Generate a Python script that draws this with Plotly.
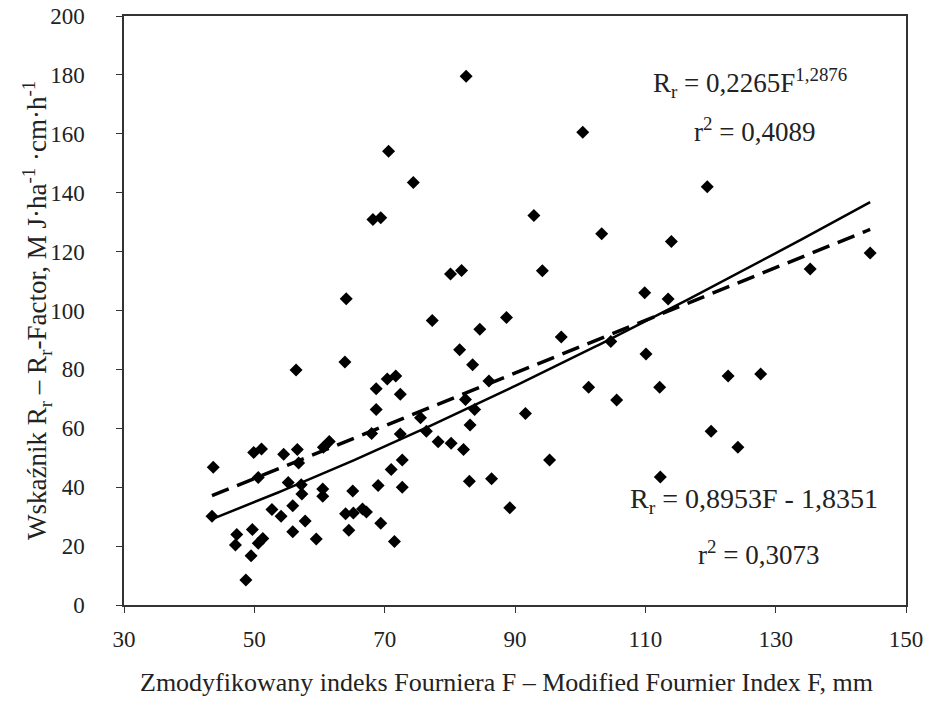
import numpy as np
import plotly.graph_objects as go

# Observed data: Modified Fournier Index F (mm) and R-factor
F_values = [43.7, 43.5, 47.3, 47.1, 48.7, 49.5, 49.7, 50.6, 51.3, 49.9,
            51.1, 50.6, 52.7, 54.1, 54.5, 55.2, 55.9, 55.9, 56.4, 56.6,
            56.8, 57.2, 57.3, 57.8, 59.5, 60.5, 60.5, 60.6, 61.5, 63.9,
            64.1, 64.0, 65.2, 66.6, 67.2, 64.5, 65.1, 68.0, 68.7, 68.7,
            69.0, 69.4, 70.4, 71.7, 72.4, 72.4, 72.7, 72.7, 71.0, 71.5,
            68.2, 69.4, 70.6, 74.4, 75.5, 76.4, 77.3, 78.2, 80.2, 80.1,
            81.8, 81.5, 82.1, 82.4, 82.5, 83.5, 83.8, 83.1, 83.0, 84.6,
            86.0, 86.4, 88.7, 89.2, 91.6, 92.9, 94.2, 95.3, 97.1, 100.4,
            101.3, 103.3, 104.7, 105.6, 109.9, 110.1, 112.2, 112.3, 113.5, 114.0,
            119.5, 120.1, 122.7, 124.2, 127.7, 135.3, 144.5]
R_values = [46.8, 30.1, 23.9, 20.4, 8.5, 16.7, 25.6, 21.0, 22.6, 51.8,
            53.0, 43.3, 32.4, 30.1, 51.2, 41.6, 33.7, 24.9, 79.8, 52.8,
            48.2, 40.8, 37.7, 28.5, 22.4, 39.4, 36.9, 53.6, 55.5, 82.5,
            104.0, 31.0, 31.2, 32.6, 31.6, 25.4, 38.7, 58.2, 73.4, 66.4,
            40.6, 27.8, 76.7, 77.8, 71.6, 58.1, 49.2, 40.0, 46.0, 21.6,
            130.9, 131.5, 154.1, 143.5, 63.6, 59.0, 96.6, 55.4, 54.9, 112.4,
            113.6, 86.7, 52.8, 69.8, 179.5, 81.6, 66.4, 61.1, 42.0, 93.6,
            76.1, 42.9, 97.6, 33.0, 65.0, 132.3, 113.5, 49.2, 91.0, 160.5,
            73.9, 126.1, 89.5, 69.6, 106.0, 85.2, 73.9, 43.5, 103.9, 123.4,
            142.0, 59.0, 77.8, 53.6, 78.4, 114.1, 119.5]

# Fitted equations shown on the chart
POW_A, POW_B = 0.2265, 1.2876
LIN_A, LIN_B = 0.8953, -1.8351

x_tick_vals = [30, 50, 70, 90, 110, 130, 150]
y_tick_vals = [0, 20, 40, 60, 80, 100, 120, 140, 160, 180, 200]

fx = np.linspace(min(F_values), max(F_values), 200)
pow_y = POW_A * fx ** POW_B
lin_y = LIN_A * fx + LIN_B

FONT = "Liberation Serif"

fig = go.Figure()
fig.add_trace(go.Scatter(x=F_values, y=R_values, mode="markers",
                         marker=dict(symbol="diamond", size=10, color="black"),
                         showlegend=False))
fig.add_trace(go.Scatter(x=fx, y=pow_y, mode="lines",
                         line=dict(color="black", width=2.5), showlegend=False))
fig.add_trace(go.Scatter(x=fx, y=lin_y, mode="lines",
                         line=dict(color="black", width=3.5, dash="18px,9px"),
                         showlegend=False))

axis_common = dict(showgrid=False, zeroline=False, showline=True, linecolor="#333",
                   linewidth=1.5, mirror=True, ticks="outside", ticklen=6,
                   tickcolor="#333", tickwidth=1.2, automargin=False,
                   tickfont=dict(family=FONT, size=23, color="#222"))

fig.update_xaxes(range=[30, 150], tickvals=x_tick_vals, ticklabelstandoff=7, **axis_common)
fig.update_yaxes(range=[0, 200], tickvals=y_tick_vals, ticklabelstandoff=27, **axis_common)

ann_font = dict(family=FONT, size=27, color="#222")


def ann(text, x, y, size=27):
    return dict(text=text, x=x, y=y, xref="paper", yref="paper", showarrow=False,
                xanchor="center", yanchor="middle",
                font=dict(family=FONT, size=size, color="#222"))


fig.update_layout(
    width=932, height=716,
    margin=dict(l=124, r=26, t=16, b=111),
    plot_bgcolor="white", paper_bgcolor="white",
    annotations=[
        ann("R<sub>r</sub> = 0,2265F<sup>1,2876</sup>", 0.80, 0.886),
        ann("r<sup>2</sup> = 0,4089", 0.806, 0.806),
        ann("R<sub>r</sub> = 0,8953F - 1,8351", 0.805, 0.178, size=28),
        ann("r<sup>2</sup> = 0,3073", 0.812, 0.088),
        dict(text="Zmodyfikowany indeks Fourniera F – Modified Fournier Index F, mm",
             x=0.489, y=-0.131, xref="paper", yref="paper", showarrow=False,
             xanchor="center", yanchor="middle",
             font=dict(family=FONT, size=26, color="#222")),
        dict(text="Wskaźnik R<sub>r</sub> – R<sub>r</sub>-Factor, M J·ha<sup>-1</sup> ·cm·h<sup>-1</sup>",
             x=-0.112, y=0.5, xref="paper", yref="paper", showarrow=False,
             textangle=-90, xanchor="center", yanchor="middle",
             font=dict(family=FONT, size=27, color="#222")),
    ],
)

fig.write_html("out.html")
